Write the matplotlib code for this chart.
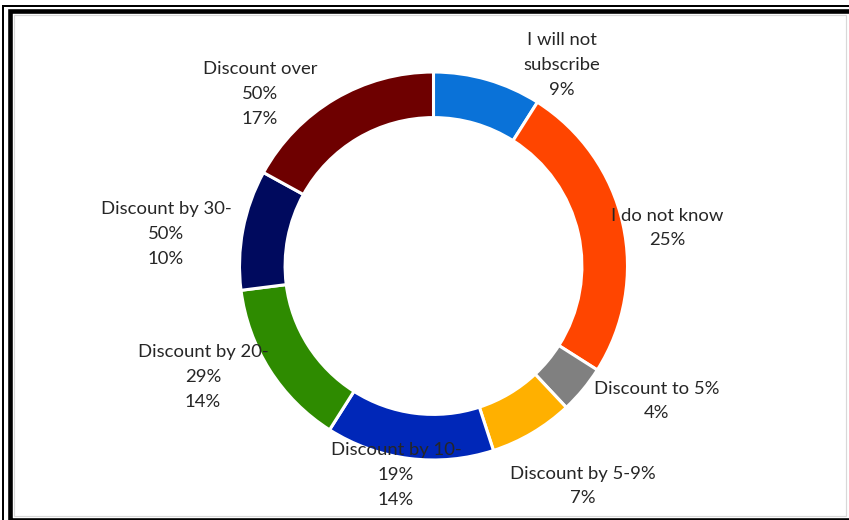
import matplotlib
matplotlib.use("Agg")
import matplotlib.pyplot as plt
from matplotlib.patches import Rectangle

# Survey answers: willingness to subscribe depending on the discount offered
categories = [
    "I will not\nsubscribe",
    "I do not know",
    "Discount to 5%",
    "Discount by 5-9%",
    "Discount by 10-\n19%",
    "Discount by 20-\n29%",
    "Discount by 30-\n50%",
    "Discount over\n50%",
]
shares = [9, 25, 4, 7, 14, 14, 10, 17]
colors = ["#0A72D8", "#FF4500", "#808080", "#FFB000",
          "#0027B8", "#2E8B00", "#000A5E", "#6E0000"]

# label anchor points (pixel coordinates, origin top-left)
label_xy = [(562, 65), (667, 228), (657, 401), (583, 486),
            (396, 475), (203, 377), (166, 234), (260, 94)]

W, H = 849, 520
fig = plt.figure(figsize=(W / 100, H / 100), dpi=100)
ax = fig.add_axes([0, 0, 1, 1])
ax.set_axis_off()

cx, cy, R = 433.5, 266, 194
ax.pie(shares, colors=colors, startangle=90, counterclock=False,
       center=(cx, H - cy), radius=R,
       wedgeprops=dict(width=R * 0.235, edgecolor="white", linewidth=2.2),
       frame=False)

for cat, val, (lx, ly) in zip(categories, shares, label_xy):
    ax.text(lx, H - ly, f"{cat}\n{val}%", ha="center", va="center",
            fontsize=13.3, family=["Lato", "DejaVu Sans"], color="#262626",
            linespacing=1.68, zorder=5)

# double frame around the chart area
px = 72 / 100
ax.add_patch(Rectangle((2.8, -20), W + 40, H - 6 + 20, fill=False,
                       edgecolor="black", linewidth=2 * px, clip_on=False))
ax.add_patch(Rectangle((10.2, H - 519.5), W + 40, 519.5 - 11.2, fill=False,
                       edgecolor="black", linewidth=4.6 * px, clip_on=False))
ax.add_patch(Rectangle((14, H - 516), 846 - 14, 516 - 14.5, fill=False,
                       edgecolor="#d8d8d8", linewidth=1.2 * px, clip_on=False))

ax.set_xlim(0, W)
ax.set_ylim(0, H)
ax.set_aspect("auto")
fig.savefig("out.png", dpi=100)
